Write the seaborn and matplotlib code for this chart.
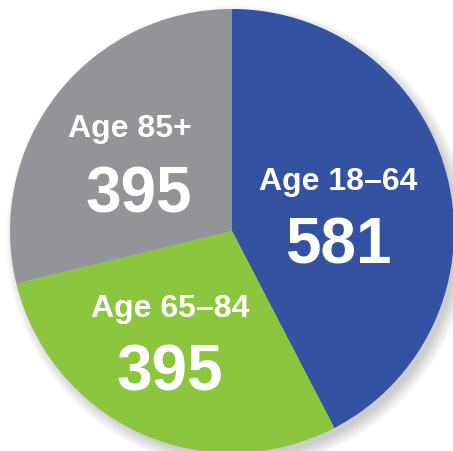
import matplotlib
matplotlib.use("Agg")
import matplotlib.pyplot as plt
import seaborn as sns
from matplotlib.patches import Circle

# slice data, clockwise from 12 o'clock
groups = ["Age 18\u201364", "Age 65\u201384", "Age 85+"]
counts = [581, 395, 395]
colors = ["#3452A2", "#8CC63F", "#939497"]

sns.set_theme(style="white")
plt.rcParams["font.family"] = ["Liberation Sans Narrow", "Liberation Sans", "DejaVu Sans"]

W, H = 453, 452
fig = plt.figure(figsize=(W / 100, H / 100), dpi=100)
ax = fig.add_axes([0, 0, 1, 1])

# pie centre (232, 232) px, radius 222 px
cx, cy, r = 232, 232, 222

# soft drop shadow, mostly to the lower right
for i in range(10):
    ax.add_patch(Circle((0.025, -0.03), 0.99 + i * 0.006, color="black",
                        alpha=0.018, lw=0, zorder=0))

wedges, _ = ax.pie(counts, colors=colors, startangle=90, counterclock=False,
                   radius=1.0, center=(0, 0), frame=True,
                   wedgeprops=dict(linewidth=0, zorder=2))
ax.set_xlim(-cx / r, (W - cx) / r)
ax.set_ylim(-(H - cy) / r, cy / r)
ax.set_aspect("auto")
ax.axis("off")

# label positions in pixels (centres)
label_px = [(338, 182), (170, 309), (130, 129)]
num_px = [(338, 247), (170, 374), (139, 196)]

for g, n, (lx, ly), (nx, ny) in zip(groups, counts, label_px, num_px):
    ax.text((lx - cx) / r, (cy - ly) / r, g, color="white", fontsize=23,
            fontweight="bold", ha="center", va="center", zorder=5)
    ax.text((nx - cx) / r, (cy - ny) / r, str(n), color="white", fontsize=46,
            fontweight="bold", ha="center", va="center", zorder=5)

fig.savefig("out.png", dpi=100, facecolor="white")
